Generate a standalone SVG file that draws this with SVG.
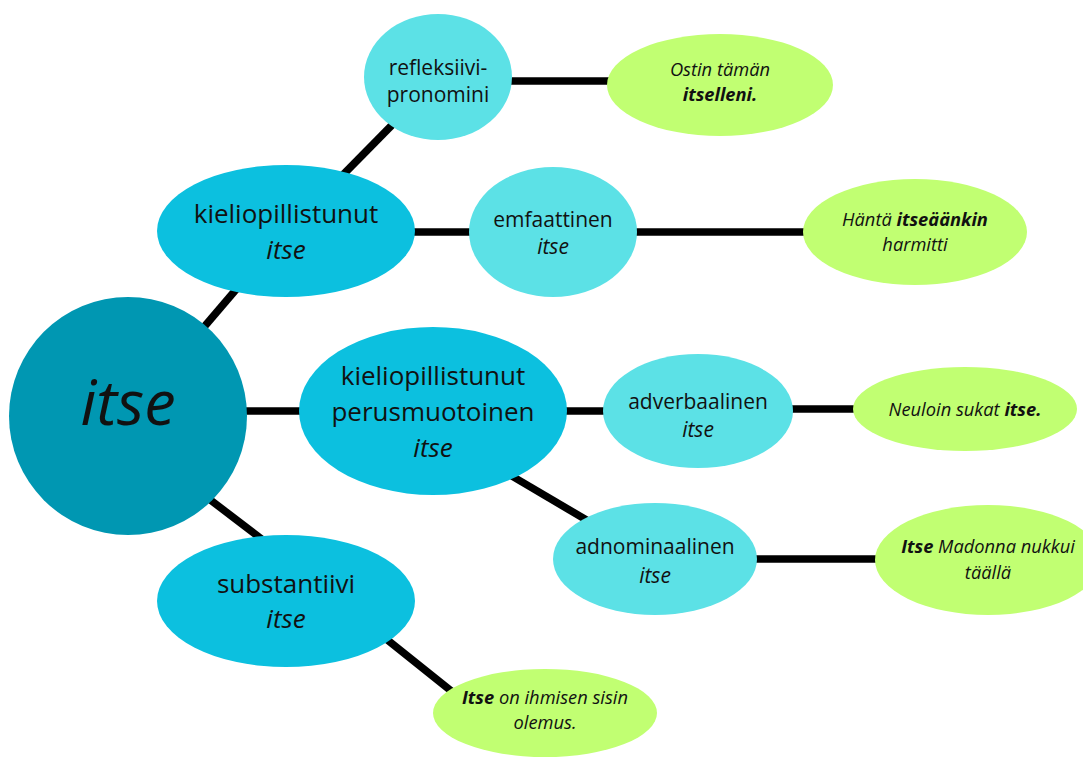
<svg xmlns="http://www.w3.org/2000/svg" width="1083" height="758" viewBox="0 0 1083 758">
<style>
text{font-family:"Open Sans","Noto Sans","Liberation Sans",sans-serif;fill:#111;text-anchor:middle}
.l1{font-size:26px}
.l2{font-size:21px}
.ex{font-size:18.3px;font-style:italic}
.it{font-style:italic}
.b{font-weight:bold}
.main{fill:#0097B2}
.n1{fill:#0CC0DF}
.n2{fill:#5CE1E6}
.g{fill:#C1FF72}
#connectors line{stroke:#000;stroke-width:7.5}
</style>
<rect width="1083" height="758" fill="#fff"/>
<g id="connectors">
<line x1="128" y1="416" x2="286" y2="231"/>
<line x1="240" y1="411" x2="310" y2="411"/>
<line x1="200" y1="492" x2="268" y2="544"/>
<line x1="330" y1="188" x2="395" y2="122"/>
<line x1="405" y1="232" x2="478" y2="232"/>
<line x1="630" y1="232" x2="810" y2="232"/>
<line x1="505" y1="81" x2="615" y2="81"/>
<line x1="560" y1="411" x2="610" y2="411"/>
<line x1="785" y1="409" x2="860" y2="409"/>
<line x1="505" y1="472" x2="595" y2="525"/>
<line x1="750" y1="559" x2="880" y2="559"/>
<line x1="380" y1="634" x2="455" y2="694"/>
</g>
<g id="node-itse"><circle class="main" cx="128" cy="416" r="119"/><text x="128" y="425" class="it" font-size="63">itse</text></g>
<g id="node-kieliopillistunut"><ellipse class="n1" cx="286" cy="231" rx="129" ry="66"/><text class="l1" x="286" y="223">kieliopillistunut</text><text class="l1 it" x="286" y="259">itse</text></g>
<g id="node-perusmuotoinen"><ellipse class="n1" cx="433" cy="411" rx="134" ry="84"/><text class="l1" x="433" y="385">kieliopillistunut</text><text class="l1" x="433" y="421">perusmuotoinen</text><text class="l1 it" x="433" y="457">itse</text></g>
<g id="node-substantiivi"><ellipse class="n1" cx="286" cy="601" rx="129" ry="66"/><text class="l1" x="286" y="593">substantiivi</text><text class="l1 it" x="286" y="628">itse</text></g>
<g id="node-refleksiivi"><ellipse class="n2" cx="438" cy="77" rx="74" ry="63"/><text class="l2" x="438" y="75">refleksiivi-</text><text class="l2" x="438" y="102">pronomini</text></g>
<g id="node-emfaattinen"><ellipse class="n2" cx="553" cy="232" rx="84" ry="65"/><text class="l2" x="553" y="227">emfaattinen</text><text class="l2 it" x="553" y="254">itse</text></g>
<g id="node-adverbaalinen"><ellipse class="n2" cx="698" cy="411" rx="95" ry="57"/><text class="l2" x="698" y="409">adverbaalinen</text><text class="l2 it" x="698" y="437">itse</text></g>
<g id="node-adnominaalinen"><ellipse class="n2" cx="655" cy="559" rx="102" ry="56"/><text class="l2" x="655" y="554">adnominaalinen</text><text class="l2 it" x="655" y="583">itse</text></g>
<g id="ex-ostin"><ellipse class="g" cx="720" cy="85" rx="113" ry="51"/><text class="ex" x="720" y="76">Ostin tämän</text><text class="ex b" x="720" y="101">itselleni.</text></g>
<g id="ex-hanta"><ellipse class="g" cx="915" cy="232" rx="112" ry="53"/><text class="ex" x="915" y="226">Häntä <tspan class="b">itseäänkin</tspan></text><text class="ex" x="915" y="251">harmitti</text></g>
<g id="ex-neuloin"><ellipse class="g" cx="965" cy="409" rx="112" ry="42"/><text class="ex" x="965" y="416">Neuloin sukat <tspan class="b">itse.</tspan></text></g>
<g id="ex-madonna"><ellipse class="g" cx="988" cy="560" rx="113" ry="55"/><text class="ex" x="988" y="553"><tspan class="b">Itse</tspan> Madonna nukkui</text><text class="ex" x="988" y="579">täällä</text></g>
<g id="ex-ihmisen"><ellipse class="g" cx="545" cy="713" rx="112" ry="44"/><text class="ex" x="545" y="704"><tspan class="b">Itse</tspan> on ihmisen sisin</text><text class="ex" x="545" y="729">olemus.</text></g>
</svg>
